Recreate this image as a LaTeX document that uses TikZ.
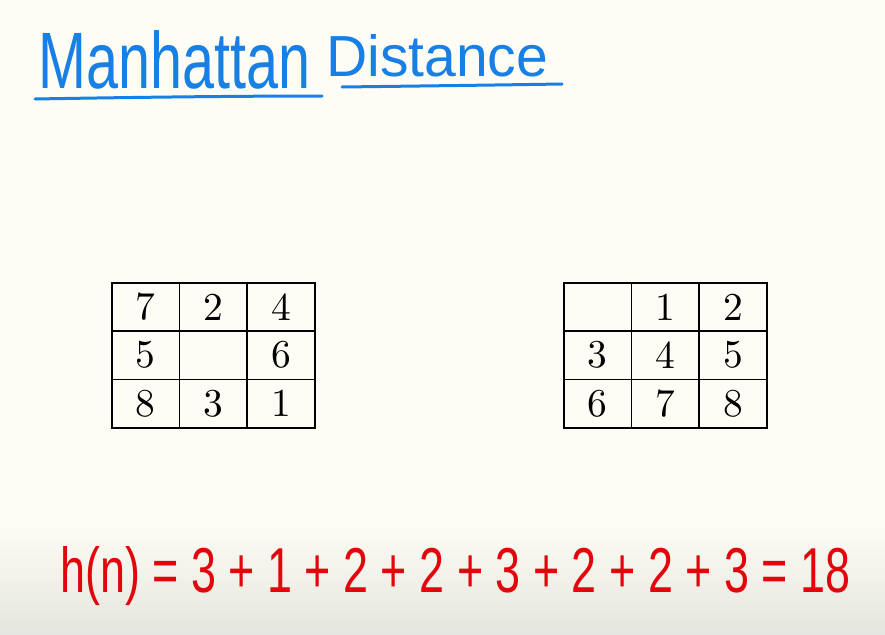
\documentclass[tikz,border=0pt]{standalone}
\usepackage{fontspec}
\newfontfamily\handfont{Liberation Sans}
\definecolor{paper}{RGB}{253,253,245}
\definecolor{papershade}{RGB}{230,230,224}
\definecolor{penblue}{RGB}{24,128,228}
\definecolor{penred}{RGB}{226,6,12}
\newcommand{\celltext}[1]{\scalebox{3.95}{#1}}
\begin{document}
\begin{tikzpicture}[x=1pt,y=-1pt,
  cell/.style={draw=black, line width=1.5pt, minimum width=67.7pt, minimum height=48.3pt,
               inner sep=0pt, anchor=north west, font=\normalsize},
  bluetext/.style={text=penblue, inner sep=0pt, anchor=base west},
  redtext/.style={text=penred, inner sep=0pt, anchor=base west},
  underline/.style={draw=penblue, line width=3pt, line cap=round}]
\useasboundingbox (0,0) rectangle (885,634);
\fill[paper] (0,0) rectangle (885,634);
\shade[top color=paper, bottom color=papershade] (0,520) rectangle (885,634);

% title
\node[bluetext] (t1) at (38,88) {\resizebox{272pt}{58pt}{\handfont Manhattan}};
\node[bluetext] (t2) at (326,76) {\resizebox{222pt}{42pt}{\handfont Distance}};
\draw[underline] (35,99) .. controls (150,97) and (250,96) .. (322,96);
\draw[underline] (342,87) .. controls (420,86) and (500,85) .. (562,84);

% start state
\node[cell] (a11) at (111,282) {\celltext{7}};
\node[cell] (a12) at (178.7,282) {\celltext{2}};
\node[cell] (a13) at (246.3,282) {\celltext{4}};
\node[cell] (a21) at (111,330.3) {\celltext{5}};
\node[cell] (a22) at (178.7,330.3) {};
\node[cell] (a23) at (246.3,330.3) {\celltext{6}};
\node[cell] (a31) at (111,378.7) {\celltext{8}};
\node[cell] (a32) at (178.7,378.7) {\celltext{3}};
\node[cell] (a33) at (246.3,378.7) {\celltext{1}};

% goal state
\node[cell] (b11) at (563,282) {};
\node[cell] (b12) at (630.7,282) {\celltext{1}};
\node[cell] (b13) at (698.3,282) {\celltext{2}};
\node[cell] (b21) at (563,330.3) {\celltext{3}};
\node[cell] (b22) at (630.7,330.3) {\celltext{4}};
\node[cell] (b23) at (698.3,330.3) {\celltext{5}};
\node[cell] (b31) at (563,378.7) {\celltext{6}};
\node[cell] (b32) at (630.7,378.7) {\celltext{7}};
\node[cell] (b33) at (698.3,378.7) {\celltext{8}};

% heuristic
\node[redtext] (eq) at (60,592) {\resizebox{790pt}{46pt}{\handfont h(n) = 3 + 1 + 2 + 2 + 3 + 2 + 2 + 3 = 18}};
\end{tikzpicture}
\end{document}
